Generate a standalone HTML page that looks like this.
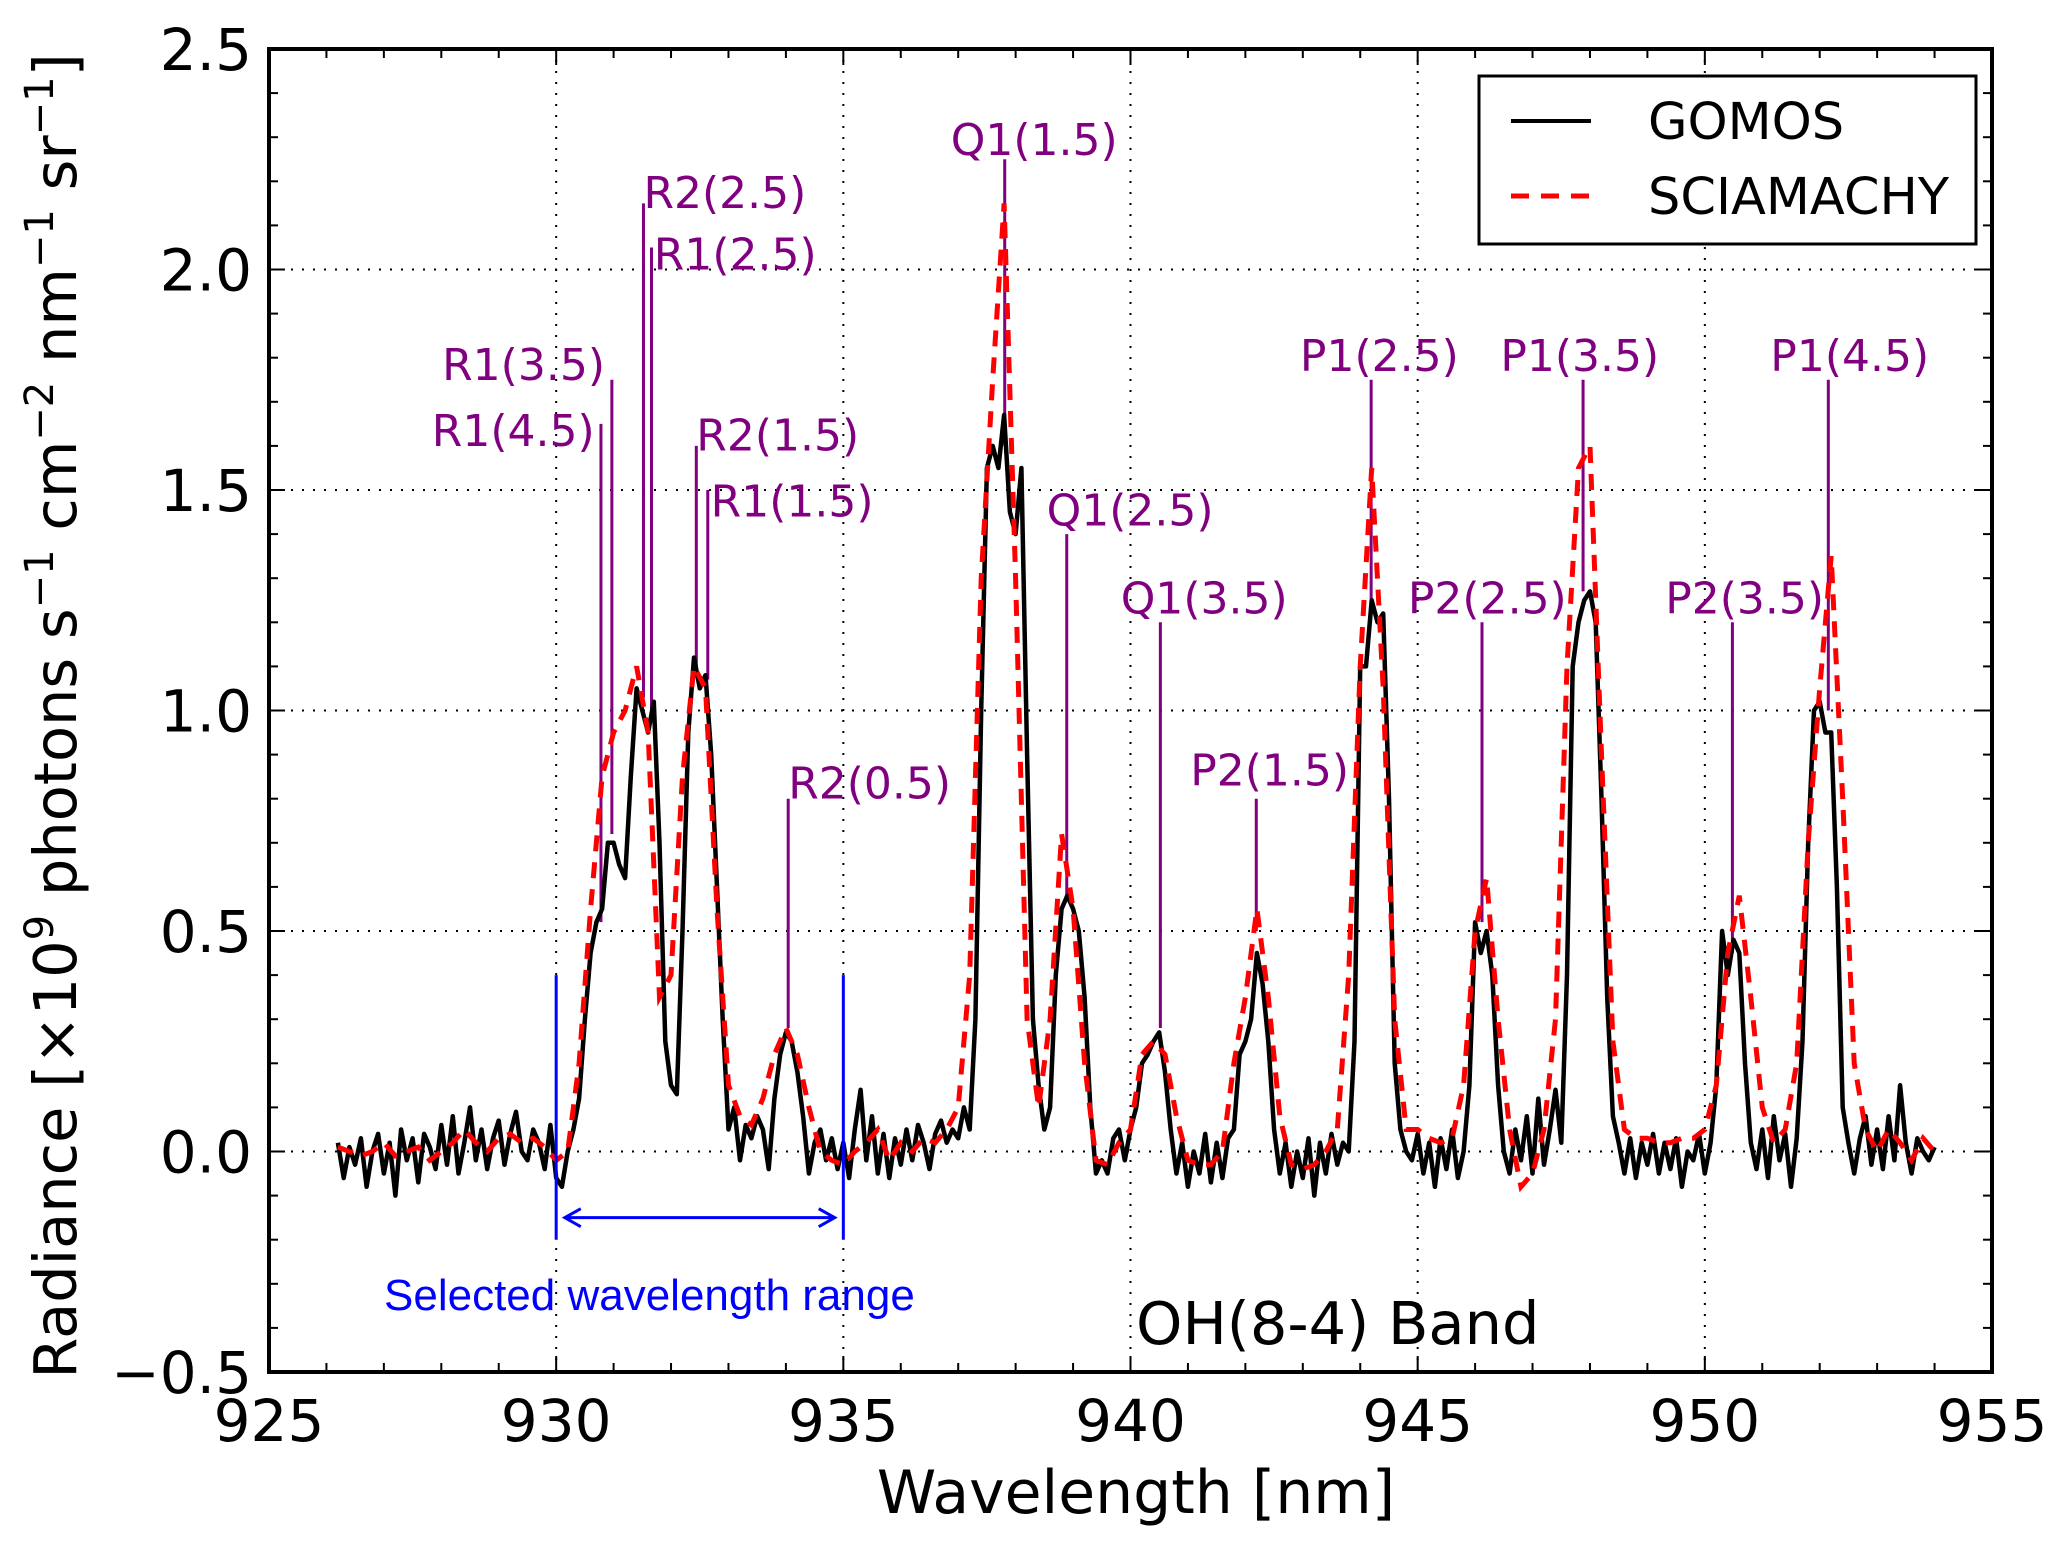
<!DOCTYPE html>
<html><head><meta charset="utf-8"><style>
html,body{margin:0;padding:0;background:#fff;}
svg{display:block;}
text{font-family:"DejaVu Sans","Liberation Sans",sans-serif;}
</style></head><body>
<svg id="chart" width="2068" height="1544" xmlns="http://www.w3.org/2000/svg"></svg>
<script>
const gomosStart = 926.2, gomosStep = 0.1;
const gomosValues = [
0.02,-0.06,0.01,-0.03,0.03,-0.08,0.00,0.04,
-0.05,0.02,-0.10,0.05,-0.02,0.03,-0.07,0.04,0.01,-0.04,
0.06,-0.03,0.08,-0.05,0.02,0.10,-0.02,0.05,-0.04,0.03,
0.07,-0.03,0.04,0.09,0.00,-0.02,0.05,0.02,-0.04,0.06,
-0.06,-0.08,0.00,0.05,0.12,0.30,0.45,0.52,0.55,0.70,
0.70,0.65,0.62,0.85,1.05,1.00,0.95,1.02,0.70,0.25,
0.15,0.13,0.50,0.95,1.12,1.05,1.08,0.90,0.60,0.30,
0.05,0.10,-0.02,0.06,0.03,0.08,0.05,-0.04,0.12,0.22,
0.27,0.25,0.18,0.08,-0.05,0.02,0.05,-0.02,0.03,-0.04,
0.02,-0.06,0.05,0.14,-0.02,0.08,-0.05,0.04,-0.06,0.03,
-0.03,0.05,-0.02,0.06,0.02,-0.04,0.04,0.07,0.02,0.05,
0.03,0.10,0.05,0.30,1.00,1.55,1.60,1.55,1.67,1.45,
1.40,1.55,0.90,0.30,0.15,0.05,0.10,0.40,0.55,0.58,
0.55,0.50,0.35,0.10,-0.05,-0.02,-0.05,0.03,0.05,-0.02,
0.05,0.10,0.20,0.22,0.25,0.27,0.18,0.05,-0.05,0.02,
-0.08,0.00,-0.05,0.04,-0.07,0.02,-0.06,0.03,0.05,0.22,
0.25,0.30,0.45,0.38,0.25,0.05,-0.05,0.02,-0.08,0.00,
-0.06,0.03,-0.10,0.02,-0.05,0.04,-0.03,0.02,0.00,0.25,
1.10,1.10,1.25,1.20,1.22,0.80,0.20,0.05,0.00,-0.02,
0.04,-0.05,0.02,-0.08,0.03,-0.04,0.05,-0.06,0.00,0.15,
0.52,0.45,0.50,0.40,0.15,0.00,-0.05,0.05,-0.02,0.08,
-0.05,0.12,-0.03,0.05,0.14,0.02,0.40,1.10,1.20,1.25,
1.27,1.20,0.80,0.35,0.08,0.02,-0.05,0.03,-0.06,0.02,
-0.03,0.04,-0.05,0.02,-0.04,0.03,-0.08,0.00,-0.02,0.04,
-0.05,0.02,0.15,0.50,0.40,0.48,0.45,0.20,0.02,-0.04,
0.05,-0.06,0.08,-0.02,0.04,-0.08,0.03,0.25,0.70,1.00,
1.02,0.95,0.95,0.60,0.10,0.02,-0.05,0.03,0.08,-0.03,
0.05,-0.04,0.08,-0.02,0.15,0.02,-0.05,0.03,0.00,-0.02,
0.01];
const sciaStart = 926.2, sciaStep = 0.2;
const sciaValues = [
0.01,0.00,-0.01,0.00,0.02,-0.01,0.00,0.01,-0.02,0.00,
0.02,0.05,0.02,0.00,0.03,0.04,0.02,0.03,0.01,-0.02,
0.00,0.20,0.55,0.85,0.95,1.00,1.10,0.95,0.35,0.40,
0.85,1.10,1.05,0.55,0.15,0.08,0.06,0.12,0.22,0.28,
0.22,0.10,0.00,-0.02,-0.03,0.00,0.02,0.05,-0.02,0.02,
0.00,0.03,0.02,0.05,0.10,0.40,1.30,1.75,2.15,1.30,
0.30,0.10,0.30,0.72,0.55,0.20,-0.02,-0.03,0.02,0.05,
0.22,0.25,0.22,0.08,-0.02,-0.03,-0.03,0.00,0.20,0.35,
0.55,0.35,0.08,-0.03,-0.04,-0.03,0.00,0.05,0.40,1.10,
1.55,1.05,0.30,0.05,0.05,0.03,0.02,0.03,0.15,0.50,
0.62,0.30,0.05,-0.08,-0.05,0.05,0.30,1.10,1.55,1.60,
0.90,0.25,0.05,0.03,0.03,0.02,0.02,0.03,0.03,0.05,
0.15,0.45,0.58,0.35,0.10,0.02,0.05,0.20,0.70,1.05,
1.35,0.80,0.20,0.05,0.00,0.05,0.02,-0.02,0.03,0.00];
const lineLabels = ["R1(4.5)","R1(3.5)","R2(2.5)","R1(2.5)","R2(1.5)","R1(1.5)","R2(0.5)","Q1(1.5)","Q1(2.5)","Q1(3.5)","P2(1.5)","P1(2.5)","P2(2.5)","P1(3.5)","P2(3.5)","P1(4.5)"];
const lineWl =     [930.78,930.97,931.52,931.66,932.44,932.64,934.04,937.81,938.89,940.52,942.19,944.19,946.12,947.88,950.48,952.15];
const lineTop =    [1.65,1.75,2.15,2.05,1.60,1.50,0.80,2.25,1.40,1.20,0.80,1.75,1.20,1.75,1.20,1.75];
const lineBottom = [0.52,0.72,1.03,1.00,1.10,1.07,0.28,1.60,0.58,0.28,0.50,1.23,0.52,1.27,0.45,1.00];
const labelWl =    [930.67,930.85,931.52,931.70,932.44,932.69,934.04,936.87,938.54,939.83,941.04,942.95,944.83,946.44,949.31,951.14];
const labelVal =   [1.60,1.75,2.14,2.00,1.59,1.44,0.80,2.26,1.42,1.22,0.83,1.77,1.22,1.77,1.22,1.77];
const labelAnchor= ["end","end","start","start","start","start","start","start","start","start","start","start","start","start","start","start"];
const xTicks = [925,930,935,940,945,950,955];
const yTicks = [-0.5,0.0,0.5,1.0,1.5,2.0,2.5];

const svg = document.getElementById('chart');
const NS = 'http://www.w3.org/2000/svg';
const L=269,R=1992,T=49,B=1372;
const xmin=925,xmax=955,ymin=-0.5,ymax=2.5;
const X=v=>L+(v-xmin)/(xmax-xmin)*(R-L);
const Y=v=>B-(v-ymin)/(ymax-ymin)*(B-T);
function mk(tag,attrs,parent){const e=document.createElementNS(NS,tag);for(const k in attrs)e.setAttribute(k,attrs[k]);(parent||svg).appendChild(e);return e;}

for(const t of xTicks){ if(t===xmin||t===xmax) continue;
  const g=mk('line',{x1:X(t),x2:X(t),y1:T,y2:B,stroke:'#000','stroke-width':2,'stroke-dasharray':'2,9'});
  
  
}
for(const t of yTicks){ if(t===ymin||t===ymax) continue;
  const g=mk('line',{x1:L,x2:R,y1:Y(t),y2:Y(t),stroke:'#000','stroke-width':2,'stroke-dasharray':'2,9'});
  
  
}
for(let v=926; v<955; v++){ const big=(v%5===0);
  const len=big?16:9;
  mk('line',{x1:X(v),x2:X(v),y1:B,y2:B-len,stroke:'#000','stroke-width':2});
  mk('line',{x1:X(v),x2:X(v),y1:T,y2:T+len,stroke:'#000','stroke-width':2});
}
for(let i=-4;i<25;i++){ const v=i/10; const big=(i%5===0); const len=big?16:9;
  mk('line',{x1:L,x2:L+len,y1:Y(v),y2:Y(v),stroke:'#000','stroke-width':2});
  mk('line',{x1:R,x2:R-len,y1:Y(v),y2:Y(v),stroke:'#000','stroke-width':2});
}
for(const t of xTicks){ const e=mk('text',{x:X(t),y:1441,'text-anchor':'middle','font-size':58});
  e.textContent=t;
  
  
}
for(const t of yTicks){ const e=mk('text',{x:252,y:Y(t)+21,'text-anchor':'end','font-size':58});
  e.textContent=(t<0?'\u2212':'')+Math.abs(t).toFixed(1);
  
  
}
for(let i=0;i<lineLabels.length;i++){
  const l=mk('line',{x1:X(lineWl[i]),x2:X(lineWl[i]),y1:Y(lineTop[i]),y2:Y(lineBottom[i]),stroke:'#800080','stroke-width':3});
  
  
  const t=mk('text',{x:X(labelWl[i]),y:Y(labelVal[i]),'text-anchor':labelAnchor[i],'font-size':44,fill:'#800080'});
  t.textContent=lineLabels[i];
  
  
}
let pg='';gomosValues.forEach((v,i)=>{pg+=(i?'L':'M')+X(gomosStart+i*gomosStep).toFixed(1)+','+Y(v).toFixed(1);});
const gp=mk('path',{d:pg,fill:'none',stroke:'#000','stroke-width':4.5,'stroke-linejoin':'round'});


let ps='';sciaValues.forEach((v,i)=>{ps+=(i?'L':'M')+X(sciaStart+i*sciaStep).toFixed(1)+','+Y(v).toFixed(1);});
const sp=mk('path',{d:ps,fill:'none',stroke:'#ff0000','stroke-width':5,'stroke-dasharray':'16,11'});


const blueRange=[930,935];
for(const w of blueRange){ const e=mk('line',{x1:X(w),x2:X(w),y1:Y(0.4),y2:Y(-0.2),stroke:'#0000ff','stroke-width':3});
  
  
}
const ay=Y(-0.15), ax1=X(930.15), ax2=X(934.85);
const ar=mk('path',{d:`M${ax1},${ay}L${ax2},${ay}M${ax1+16},${ay-9}L${ax1},${ay}L${ax1+16},${ay+9}M${ax2-16},${ay-9}L${ax2},${ay}L${ax2-16},${ay+9}`,fill:'none',stroke:'#0000ff','stroke-width':3});


mk('rect',{x:L,y:T,width:R-L,height:B-T,fill:'none',stroke:'#000','stroke-width':4});
</script>
<svg width="2068" height="1544" style="position:absolute;left:0;top:0" xmlns="http://www.w3.org/2000/svg">
<text x="384" y="1310" font-size="44" fill="#0000ff" style="font-family:'Liberation Sans',sans-serif">Selected wavelength range</text>
<text x="1136" y="1344" font-size="59">OH(8-4) Band</text>
<text x="1136" y="1513" font-size="60" text-anchor="middle">Wavelength [nm]</text>
<text transform="translate(76,716) rotate(-90)" font-size="59" text-anchor="middle">Radiance [×10<tspan font-size="40" dy="-23">9</tspan><tspan dy="23"> photons s</tspan><tspan font-size="40" dy="-23">−1</tspan><tspan dy="23"> cm</tspan><tspan font-size="40" dy="-23">−2</tspan><tspan dy="23"> nm</tspan><tspan font-size="40" dy="-23">−1</tspan><tspan dy="23"> sr</tspan><tspan font-size="40" dy="-23">−1</tspan><tspan dy="23">]</tspan></text>
<g>
<rect x="1479" y="76" width="497" height="168" fill="#fff" stroke="#000" stroke-width="3"/>
<line x1="1511" y1="121" x2="1591" y2="121" stroke="#000" stroke-width="4"/>
<text x="1648" y="139" font-size="51">GOMOS</text>
<line x1="1511" y1="196" x2="1591" y2="196" stroke="#f00" stroke-width="5" stroke-dasharray="18,12"/>
<text x="1648" y="214" font-size="51">SCIAMACHY</text>
</g>
</svg>
</body></html>
